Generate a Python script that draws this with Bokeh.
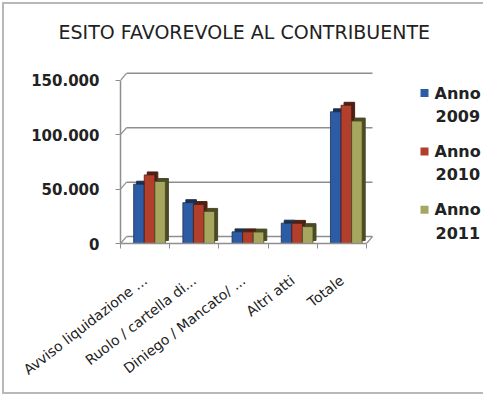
import numpy as np
from bokeh.plotting import figure
from bokeh.models import Range1d, FixedTicker, ColumnDataSource, Title, LinearAxis
from bokeh.transform import dodge
from bokeh.core.properties import value
from bokeh.embed import file_html
from bokeh.resources import INLINE

# ---------------- data ----------------
TITLE = "ESITO FAVOREVOLE AL CONTRIBUENTE"
CATEGORIES = ["Avviso liquidazione ...", "Ruolo / cartella di...",
              "Diniego / Mancato/ ...", "Altri atti", "Totale"]
SERIES = ["Anno 2009", "Anno 2010", "Anno 2011"]
VALUES_2009 = [54500, 37500, 10700, 18700, 121000]
VALUES_2010 = [63000, 35800, 10700, 18500, 127000]
VALUES_2011 = [57000, 29500, 10500, 15500, 112500]
Y_TICKS = [0, 50000, 100000, 150000]
Y_TICK_LABELS = ["0", "50.000", "100.000", "150.000"]

# ---------------- style / layout ----------------
COLORS = ["#2d5ca6", "#b23f2b", "#a6a65e"]
EDGE_COLORS = ["#1e2f4c", "#4c2015", "#4a4a26"]
FONT = "DejaVu Sans"
TEXT_COLOR = "#222222"
OX, OY = 12, 12            # canvas origin on the page (after margin + border)
W, H = 481, 392
FRAME_L, FRAME_R, FRAME_T, FRAME_B = 128, 492, 62, 251
CAT_W = 49.2               # px per category
Y0_PX, YMAX_PX = 251, 86   # page px of 0 and of top tick
DX, DY = 6, 7              # 3D back-wall offset (px)
DXB, DYB = 3, 3            # bar depth (px)
BAR_W = 0.215
GROUP_SHIFT = 0.09

n = len(CATEGORIES)
YMAX = Y_TICKS[-1]
x_end = (FRAME_R - FRAME_L) / CAT_W
ky = (Y0_PX - YMAX_PX) / YMAX
y_start = -(FRAME_B - Y0_PX) / ky
y_end = YMAX + (YMAX_PX - FRAME_T) / ky

p = figure(width=W, height=H, output_backend="svg", toolbar_location=None,
           x_range=Range1d(0, x_end), y_range=Range1d(y_start, y_end),
           x_axis_type=None, y_axis_type=None,
           min_border_left=FRAME_L - OX, min_border_right=(OX + W) - FRAME_R,
           min_border_top=FRAME_T - OY, min_border_bottom=(OY + H) - FRAME_B)
p.outline_line_color = None
p.background_fill_color = "white"
p.border_fill_color = "white"
p.styles = {"margin-left": "2px", "margin-top": "2px",
            "border-left": "2px solid #b8b8b8", "border-top": "2px solid #b8b8b8",
            "border-bottom": "2px solid #b8b8b8"}

p.extra_x_ranges = {
    "back": Range1d(-DX / CAT_W, x_end - DX / CAT_W),
    "depthx": Range1d(-DXB / CAT_W, x_end - DXB / CAT_W),
    "px": Range1d(FRAME_L, FRAME_R),
}
p.extra_y_ranges = {
    "back": Range1d(y_start - DY / ky, y_end - DY / ky),
    "depthy": Range1d(y_start - DYB / ky, y_end - DYB / ky),
    "px": Range1d(FRAME_B, FRAME_T),
}

GRID_COLOR = "#8e8e8e"
# back-wall gridlines
p.segment(x0=0, x1=n, y0=Y_TICKS, y1=Y_TICKS, x_range_name="back", y_range_name="back",
          line_color=GRID_COLOR, line_width=1.5)
# side-wall connectors from the front axis to the back gridlines
p.segment(x0=-DX / CAT_W, x1=0, y0=[v - DY / ky for v in Y_TICKS], y1=Y_TICKS,
          x_range_name="back", y_range_name="back", line_color=GRID_COLOR, line_width=1.2)
p.segment(x0=n - DX / CAT_W, x1=n, y0=[-DY / ky], y1=[0],
          x_range_name="back", y_range_name="back", line_color=GRID_COLOR, line_width=1.2)

# axes
yaxis = LinearAxis(ticker=FixedTicker(ticks=Y_TICKS), bounds=(0, YMAX),
                   major_label_overrides={t: l for t, l in zip(Y_TICKS, Y_TICK_LABELS)},
                   major_tick_out=5, major_tick_in=0, minor_tick_out=0, minor_tick_in=0,
                   axis_line_color=GRID_COLOR, axis_line_width=1.5,
                   major_tick_line_color=GRID_COLOR, major_label_standoff=16,
                   major_label_text_font=FONT, major_label_text_font_size="15px",
                   major_label_text_font_style="bold",
                   major_label_text_color=TEXT_COLOR)
p.add_layout(yaxis, "left")

centers = [i + 0.5 for i in range(n)]
xaxis = LinearAxis(ticker=FixedTicker(ticks=centers, minor_ticks=list(range(n + 1))),
                   bounds=(0, n),
                   major_label_overrides={c: lab for c, lab in zip(centers, CATEGORIES)},
                   major_label_orientation=0.66,
                   major_tick_out=0, major_tick_in=0, minor_tick_out=5, minor_tick_in=0,
                   axis_line_color=GRID_COLOR, axis_line_width=1.5,
                   minor_tick_line_color=GRID_COLOR, major_label_standoff=30,
                   major_label_text_font=FONT, major_label_text_font_size="14px",
                   major_label_text_color=TEXT_COLOR)
p.add_layout(xaxis, "below")

# bars
src = ColumnDataSource(dict(x=centers, v0=VALUES_2009, v1=VALUES_2010, v2=VALUES_2011))
for j in range(len(SERIES)):
    off = GROUP_SHIFT + (j - 1) * BAR_W
    p.vbar(x=dodge("x", off), top=f"v{j}", bottom=0, width=BAR_W, source=src,
           x_range_name="depthx", y_range_name="depthy",
           fill_color=EDGE_COLORS[j], line_color=EDGE_COLORS[j])
    p.vbar(x=dodge("x", off), top=f"v{j}", bottom=0, width=BAR_W, source=src,
           fill_color=COLORS[j], line_color=EDGE_COLORS[j], line_width=0.8)

# legend (drawn in page-pixel ranges)
LEG_X, LEG_Y0, LEG_STEP, LEG_LINE = 432, 99, 59, 23
for j, name in enumerate(SERIES):
    first, second = name.split(" ")
    yy = LEG_Y0 + j * LEG_STEP
    p.rect(x=LEG_X, y=yy, width=8, height=8, width_units="screen", height_units="screen",
           x_range_name="px", y_range_name="px", fill_color=COLORS[j], line_color=None)
    p.text(x=[LEG_X + 10, LEG_X + 11], y=[yy, yy + LEG_LINE], text=[first, second],
           x_range_name="px", y_range_name="px", text_font=value(FONT),
           text_font_size="16px", text_font_style="bold",
           text_baseline="middle", text_align="left", text_color=TEXT_COLOR)

p.add_layout(Title(text=TITLE, align="left", offset=66 - FRAME_L, standoff=28,
                   text_font=FONT, text_font_size="19px", text_font_style="normal",
                   text_color=TEXT_COLOR), "above")

open("out.html", "w").write(file_html(p, INLINE))
